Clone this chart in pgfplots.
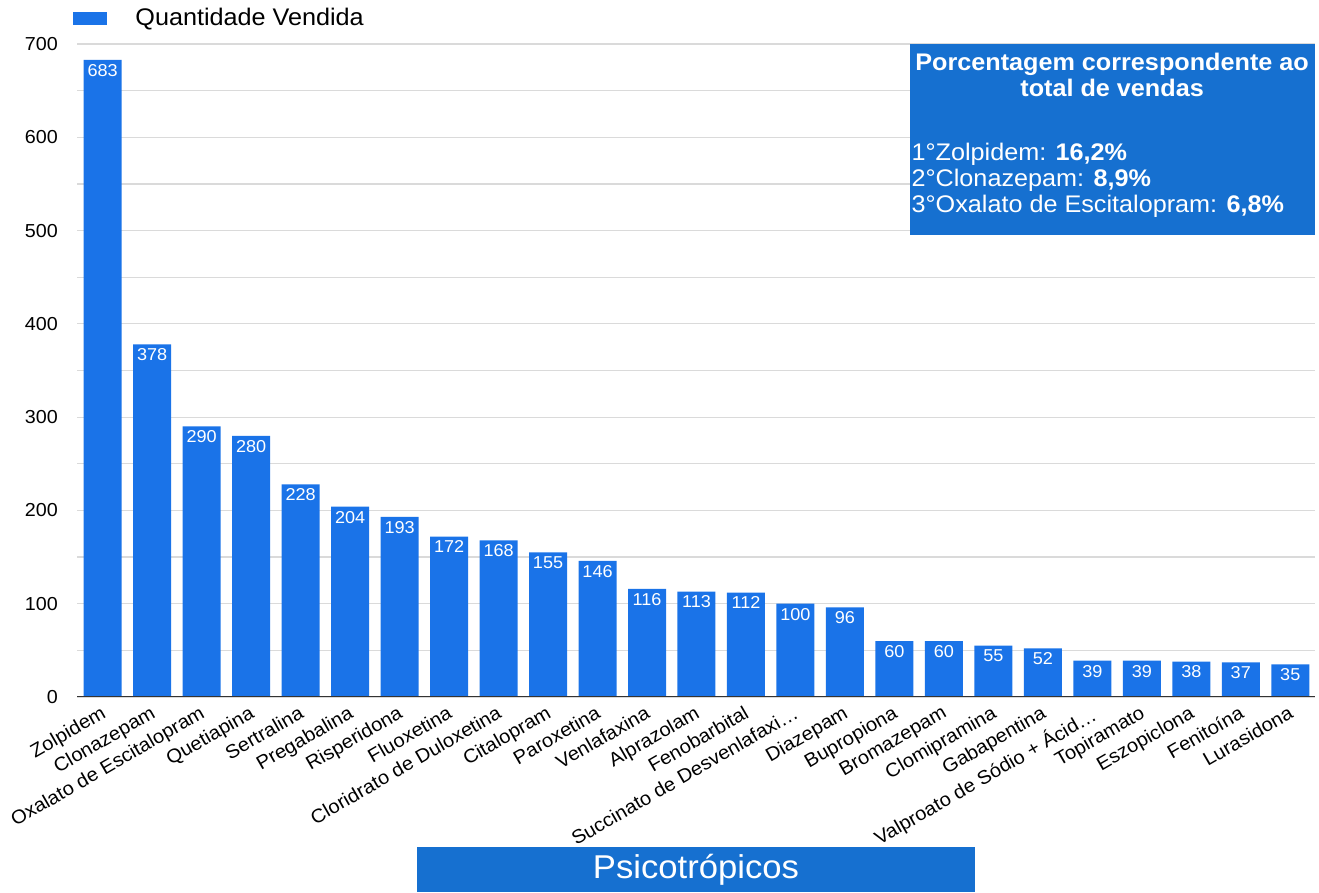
\documentclass[border=0pt]{standalone}
\usepackage{fontspec}
\setmainfont{Liberation Sans}[FakeStretch=1.05]
\usepackage{pgfplots}
\pgfplotsset{compat=1.18}
\definecolor{barblue}{RGB}{26,115,232}
\definecolor{boxblue}{RGB}{22,112,208}
\definecolor{gridgray}{RGB}{218,218,218}
\definecolor{axisgray}{RGB}{51,51,51}
\begin{document}
\begin{tikzpicture}
\useasboundingbox (0,0) rectangle (659.5pt,446.5pt);
\begin{axis}[
  at={(38.5pt,98pt)}, anchor=south west,
  scale only axis, width=619pt, height=326.5pt,
  xmin=-0.52, xmax=24.5, ymin=0, ymax=700,
  ybar, bar width=19pt, bar shift=0pt,
  axis line style={draw=none},
  tick style={draw=none},
  major tick length=0pt, minor tick length=0pt,
  ytick={0,100,...,700},
  minor ytick={50,150,...,650},
  ymajorgrids, yminorgrids,
  major grid style={gridgray, line width=0.6pt},
  minor grid style={gridgray, line width=0.6pt},
  xtick={0,...,24},
  xticklabels={Zolpidem, Clonazepam, Oxalato de Escitalopram, Quetiapina, Sertralina, Pregabalina, Risperidona, Fluoxetina, Cloridrato de Duloxetina, Citalopram, Paroxetina, Venlafaxina, Alprazolam, Fenobarbital, Succinato de Desvenlafaxi…, Diazepam, Bupropiona, Bromazepam, Clomipramina, Gabapentina, Valproato de Sódio + Ácid…, Topiramato, Eszopiclona, Fenitoína, Lurasidona},
  xticklabel style={rotate=30, anchor=north east, font=\fontsize{9.6}{11}\selectfont, inner sep=1pt, yshift=-1.5pt, xshift=-2pt},
  yticklabel style={font=\fontsize{9.4}{10}\selectfont, xshift=-6pt},
  /pgf/number format/assume math mode=true,
  nodes near coords,
  nodes near coords style={anchor=north, text=white, font=\fontsize{8.6}{9}\selectfont, inner sep=2pt},
  legend style={at={(rel axis cs:0,1)}, anchor=west, xshift=-2pt, yshift=12.75pt, draw=none, fill=none, inner sep=0pt, font=\fontsize{12}{13}\selectfont, /tikz/every odd column/.append style={column sep=12pt}},
  legend image code/.code={\fill[barblue] (0pt,-3.25pt) rectangle (17pt,3.25pt);},
]
\addplot[fill=barblue, draw=none] coordinates {
(0,683) (1,378) (2,290) (3,280) (4,228) (5,204) (6,193) (7,172) (8,168) (9,155)
(10,146) (11,116) (12,113) (13,112) (14,100) (15,96) (16,60) (17,60) (18,55) (19,52)
(20,39) (21,39) (22,38) (23,37) (24,35)};
\addlegendentry{Quantidade Vendida}
\draw[axisgray, line width=0.8pt] (rel axis cs:0,0) -- (rel axis cs:1,0);
\node[fill=boxblue, text=white, inner sep=0pt, anchor=north east] at (rel axis cs:1,1)
 {\parbox[t][95.5pt][t]{202.5pt}{\fontsize{12}{12.8}\selectfont\vspace*{4.5pt}%
 {\centering\bfseries Porcentagem correspondente ao\\ total de vendas\par}%
 \vspace{19.5pt}\raggedright
 \hspace*{1pt}1°Zolpidem: \textbf{16,2\%}\\
 \hspace*{1pt}2°Clonazepam: \textbf{8,9\%}\\
 \hspace*{1pt}3°Oxalato de Escitalopram: \textbf{6,8\%}}};
\end{axis}
\node[fill=boxblue, text=white, minimum width=279pt, minimum height=22.5pt, inner sep=0pt, font=\fontsize{16.5}{18}\selectfont] at (348pt,11.5pt) {Psicotrópicos};
\end{tikzpicture}
\end{document}
